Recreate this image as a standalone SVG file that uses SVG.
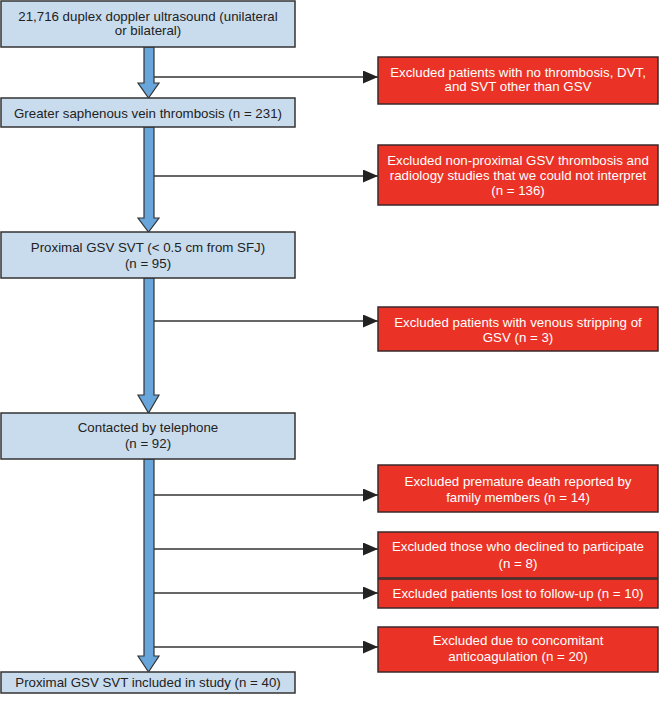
<svg xmlns="http://www.w3.org/2000/svg" width="660" height="702" viewBox="0 0 660 702">
<defs>
<style>
.bb{fill:#c9dced;stroke:#333;stroke-width:1.5}
.rb{fill:#ea3326;stroke:#3a2a2a;stroke-width:1.5}
.t{font-family:"Liberation Sans",Arial,sans-serif;font-size:13.3px;text-anchor:middle;fill:#222}
.w{fill:#fff}
.ln{stroke:#333;stroke-width:1.5;fill:none}
.ar{fill:#67a5da;stroke:#333;stroke-width:1.2;stroke-linejoin:miter}
</style>
<marker id="ah" markerWidth="15" markerHeight="13" refX="15" refY="6.5" orient="auto" markerUnits="userSpaceOnUse">
<path d="M0,0 L15,6.5 L0,13 Z" fill="#222"/>
</marker>
</defs>
<rect width="660" height="702" fill="#fff"/>
<g id="connectors">
<path class="ar" d="M144,47 V83 H138 L148.5,98 L159,83 H154 V47 Z"/>
<path class="ar" d="M144,127 V218 H138 L148.5,232 L159,218 H154 V127 Z"/>
<path class="ar" d="M144,278 V395 H138 L148.5,413 L159,395 H154 V278 Z"/>
<path class="ar" d="M144,459 V656 H138 L148.5,672 L159,656 H154 V459 Z"/>
<line class="ln" x1="154" y1="77" x2="378" y2="77" marker-end="url(#ah)"/>
<line class="ln" x1="154" y1="176" x2="378" y2="176" marker-end="url(#ah)"/>
<line class="ln" x1="154" y1="321" x2="378" y2="321" marker-end="url(#ah)"/>
<line class="ln" x1="154" y1="495" x2="378" y2="495" marker-end="url(#ah)"/>
<line class="ln" x1="154" y1="549" x2="378" y2="549" marker-end="url(#ah)"/>
<line class="ln" x1="154" y1="593" x2="378" y2="593" marker-end="url(#ah)"/>
<line class="ln" x1="154" y1="647" x2="378" y2="647" marker-end="url(#ah)"/>
</g>
<g id="n1"><rect class="bb" x="1" y="1" width="294" height="46"/>
<text class="t" x="148" y="21">21,716 duplex doppler ultrasound (unilateral</text>
<text class="t" x="148" y="35">or bilateral)</text></g>
<g id="n2"><rect class="bb" x="1" y="98" width="294" height="29"/>
<text class="t" x="148" y="118">Greater saphenous vein thrombosis (n = 231)</text></g>
<g id="n3"><rect class="bb" x="1" y="232" width="294" height="46"/>
<text class="t" x="148" y="252">Proximal GSV SVT (&lt; 0.5 cm from SFJ)</text>
<text class="t" x="148" y="268">(n = 95)</text></g>
<g id="n4"><rect class="bb" x="1" y="413" width="294" height="46"/>
<text class="t" x="148" y="432">Contacted by telephone</text>
<text class="t" x="148" y="448">(n = 92)</text></g>
<g id="n5"><rect class="bb" x="1" y="672" width="294" height="21"/>
<text class="t" x="148" y="687">Proximal GSV SVT included in study (n = 40)</text></g>
<g id="e1"><rect class="rb" x="378" y="57" width="280" height="47"/>
<text class="t w" x="518" y="77">Excluded patients with no thrombosis, DVT,</text>
<text class="t w" x="518" y="91">and SVT other than GSV</text></g>
<g id="e2"><rect class="rb" x="378" y="145" width="280" height="60"/>
<text class="t w" x="518" y="165">Excluded non-proximal GSV thrombosis and</text>
<text class="t w" x="518" y="180">radiology studies that we could not interpret</text>
<text class="t w" x="518" y="195">(n = 136)</text></g>
<g id="e3"><rect class="rb" x="378" y="307" width="280" height="44"/>
<text class="t w" x="518" y="327">Excluded patients with venous stripping of</text>
<text class="t w" x="518" y="342">GSV (n = 3)</text></g>
<g id="e4"><rect class="rb" x="378" y="465" width="280" height="47"/>
<text class="t w" x="518" y="486">Excluded premature death reported by</text>
<text class="t w" x="518" y="502">family members (n = 14)</text></g>
<g id="e5"><rect class="rb" x="378" y="532" width="280" height="46"/>
<text class="t w" x="518" y="551">Excluded those who declined to participate</text>
<text class="t w" x="518" y="568">(n = 8)</text></g>
<g id="e6"><rect class="rb" x="378" y="579" width="280" height="29"/>
<text class="t w" x="518" y="598">Excluded patients lost to follow-up (n = 10)</text></g>
<g id="e7"><rect class="rb" x="378" y="627" width="280" height="45"/>
<text class="t w" x="518" y="645">Excluded due to concomitant</text>
<text class="t w" x="518" y="661">anticoagulation (n = 20)</text></g>
</svg>
